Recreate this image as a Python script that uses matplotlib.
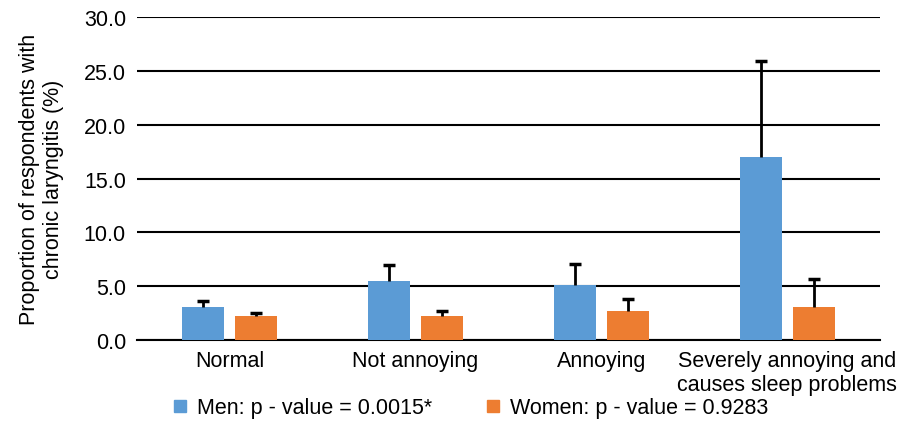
import matplotlib.pyplot as plt
from matplotlib.lines import Line2D
import numpy as np

plt.rcParams['font.family'] = ['Liberation Sans', 'DejaVu Sans']

categories = ["Normal", "Not annoying", "Annoying",
              "Severely annoying and\ncauses sleep problems"]
men = [3.1, 5.5, 5.1, 17.0]
men_err = [0.5, 1.5, 2.0, 8.9]
women = [2.2, 2.2, 2.7, 3.1]
women_err = [0.3, 0.5, 1.1, 2.6]

men_label = "Men: p - value = 0.0015*"
women_label = "Women: p - value = 0.9283"
blue = "#5B9BD5"
orange = "#ED7D31"

fig = plt.figure(figsize=(9.12, 4.27), dpi=100)
ax = fig.add_axes([137 / 912, 1 - 341 / 427, (880 - 137) / 912, (341 - 18) / 427])

x = np.arange(len(categories))
w = 0.226
off = 0.143


def upper_err(xs, vals, errs):
    # one-sided error bars: stem up from bar top, cap only at the top
    tops = np.array(vals) + np.array(errs)
    ax.vlines(xs, vals, tops, color="black", linewidth=2, zorder=4)
    ax.plot(xs, tops, linestyle="none", marker="_", markersize=9,
            markeredgewidth=2.5, color="black", zorder=4)


ax.bar(x - off, men, w, color=blue, zorder=3)
ax.bar(x + off, women, w, color=orange, zorder=3)
upper_err(x - off, men, men_err)
upper_err(x + off, women, women_err)

ax.set_xlim(-0.5, len(categories) - 0.5)
ax.set_ylim(0, 30)
ax.set_yticks(np.arange(0, 30.1, 5))
ax.set_yticklabels([f"{v:.1f}" for v in np.arange(0, 30.1, 5)])
ax.set_xticks(x)
ax.set_xticklabels(categories, va="top")
ax.yaxis.grid(True, color="black", linewidth=1.5, zorder=0)
ax.set_axisbelow(True)
for s in ["top", "right", "left"]:
    ax.spines[s].set_visible(False)
ax.spines["bottom"].set_linewidth(1.5)
ax.tick_params(axis="both", length=0, labelsize=15.5, pad=8)
ax.tick_params(axis="x", pad=7)

ax.set_ylabel("Proportion of respondents with\nchronic laryngitis (%)",
              fontsize=15.5, labelpad=14)

handles = [Line2D([], [], marker="s", color=blue, linestyle="none", markersize=8),
           Line2D([], [], marker="s", color=orange, linestyle="none", markersize=8)]
fig.legend(handles, [men_label, women_label], loc="center",
           bbox_to_anchor=(0.514, 1 - 409 / 427), ncol=2, frameon=False,
           fontsize=15.5, handletextpad=0.3, columnspacing=2.35, handlelength=1)

fig.savefig("out.png", dpi=100)
